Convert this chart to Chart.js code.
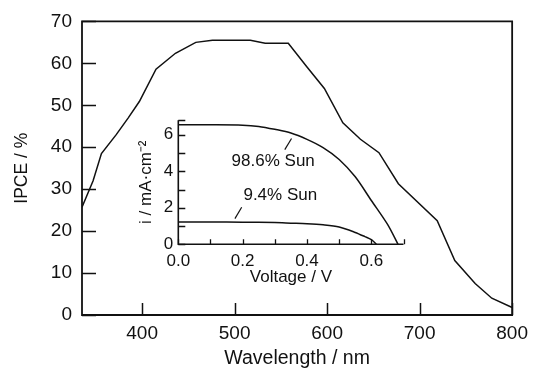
<!DOCTYPE html>
<html>
<head>
<meta charset="utf-8">
<script src="https://cdn.jsdelivr.net/npm/chart.js@4"></script>
<style>
  body { margin: 0; background: #fff; }
  #wrap { position: relative; width: 535px; height: 369px; }
  #main { position: absolute; left: 0; top: 0; }
  #inset { position: absolute; left: 120px; top: 105px; }
</style>
</head>
<body>
<div id="wrap">
  <canvas id="main" width="535" height="369"></canvas>
  <canvas id="inset" width="300" height="190"></canvas>
</div>
<script>
'use strict';
// IPCE spectrum (main plot)
var wavelength = [335, 347, 356, 372, 385, 397, 415, 436, 458, 476, 517, 533, 558, 578, 597, 617, 636, 656, 677, 719, 738, 760, 778, 800];
var ipce = [25.7, 32, 38.5, 43, 47, 50.9, 58.6, 62.4, 65, 65.5, 65.5, 64.8, 64.8, 59.2, 54, 45.8, 41.9, 38.7, 31.3, 22.5, 13, 7.5, 4, 1.8];
var wavelengthTicks = [400, 500, 600, 700, 800];

// inset: i-V curves at two light intensities
var voltageHigh = [0, 0.1, 0.2, 0.25, 0.3, 0.35, 0.4, 0.45, 0.5, 0.55, 0.6, 0.65, 0.683];
var currentHigh = [6.55, 6.55, 6.53, 6.46, 6.3, 6.1, 5.75, 5.3, 4.65, 3.7, 2.4, 1.1, 0];
var voltageLow = [0, 0.1, 0.2, 0.3, 0.35, 0.4, 0.45, 0.5, 0.55, 0.58, 0.6, 0.616];
var currentLow = [1.22, 1.22, 1.21, 1.19, 1.16, 1.13, 1.07, 0.95, 0.65, 0.42, 0.25, 0];
var curveLabels = ['98.6% Sun', '9.4% Sun'];

var FONT = "'Liberation Sans', Arial, Helvetica, sans-serif";
var INK = '#111';

function points(xs, ys) {
    return xs.map(function (x, i) { return { x: x, y: ys[i] } })
}

// frame + inward tick marks, drawn from the chart's own scales
var framePlugin = {
    id: 'frame',
    afterDraw: function (chart, args, opts) {
        var ctx = chart.ctx, a = chart.chartArea
        var xs = chart.scales.x, ys = chart.scales.y
        ctx.save()
        ctx.strokeStyle = INK
        ctx.lineWidth = opts.width
        ctx.beginPath()
        if (opts.box) {
            ctx.rect(a.left, a.top, a.right - a.left, a.bottom - a.top)
        } else {
            ctx.moveTo(a.left, a.top)
            ctx.lineTo(a.left, a.bottom)
            ctx.lineTo(a.right, a.bottom)
        }
        ctx.stroke()
        ctx.lineWidth = opts.tickWidth
        ctx.beginPath()
        xs.ticks.forEach(function (t) {
            var px = Math.round(xs.getPixelForValue(t.value)) + 0.5
            ctx.moveTo(px, a.bottom)
            ctx.lineTo(px, a.bottom - opts.xTick)
        })
        ys.ticks.forEach(function (t) {
            var py = Math.round(ys.getPixelForValue(t.value)) + 0.5
            ctx.moveTo(a.left, py)
            ctx.lineTo(a.left + opts.yTick, py)
        })
        ctx.stroke()
        ctx.restore()
    }
};

// curve labels with leader lines in the inset
var labelPlugin = {
    id: 'curveLabels',
    afterDraw: function (chart, args, opts) {
        var ctx = chart.ctx, xs = chart.scales.x, ys = chart.scales.y
        ctx.save()
        ctx.fillStyle = INK
        ctx.strokeStyle = INK
        ctx.lineWidth = 1.2
        ctx.font = opts.size + 'px ' + FONT
        ctx.textAlign = 'center'
        ctx.textBaseline = 'middle'
        opts.items.forEach(function (it) {
            ctx.fillText(it.text, xs.getPixelForValue(it.at[0]), ys.getPixelForValue(it.at[1]))
            ctx.beginPath()
            ctx.moveTo(xs.getPixelForValue(it.from[0]), ys.getPixelForValue(it.from[1]))
            ctx.lineTo(xs.getPixelForValue(it.to[0]), ys.getPixelForValue(it.to[1]))
            ctx.stroke()
        })
        ctx.restore()
    }
};

// main chart
new Chart(document.getElementById('main'), {
    type: 'line',
    data: {
        datasets: [{
            data: points(wavelength, ipce),
            borderColor: INK,
            borderWidth: 1.5,
            pointRadius: 0,
            tension: 0,
            fill: false
        }]
    },
    options: {
        responsive: false,
        animation: false,
        layout: { padding: { left: 0, top: 19, right: 20, bottom: 0 } },
        plugins: {
            legend: { display: false },
            tooltip: { enabled: false },
            frame: { box: true, width: 1.8, tickWidth: 1.5, xTick: 12, yTick: 14 }
        },
        scales: {
            x: {
                type: 'linear',
                min: 335,
                max: 800,
                afterBuildTicks: function (s) {
                    s.ticks = wavelengthTicks.map(function (v) { return { value: v } })
                },
                afterFit: function (s) { s.height = 54 },
                grid: { display: false, drawTicks: false },
                border: { display: false },
                ticks: { color: INK, padding: 7, maxRotation: 0, font: { family: FONT, size: 19, lineHeight: 1.2 } },
                title: {
                    display: true,
                    text: 'Wavelength / nm',
                    color: INK,
                    padding: { top: 0, bottom: 1 },
                    font: { family: FONT, size: 19.5, lineHeight: 1 }
                }
            },
            y: {
                min: 0,
                max: 70,
                afterFit: function (s) { s.width = 82 },
                grid: { display: false, drawTicks: false },
                border: { display: false },
                ticks: { stepSize: 10, color: INK, padding: 10, font: { family: FONT, size: 19 } },
                title: {
                    display: true,
                    text: 'IPCE / %',
                    color: INK,
                    padding: { top: 13, bottom: 0 },
                    font: { family: FONT, size: 17.5, lineHeight: 1 }
                }
            }
        }
    },
    plugins: [framePlugin]
});

// inset chart
new Chart(document.getElementById('inset'), {
    type: 'line',
    data: {
        datasets: [{
            data: points(voltageHigh, currentHigh),
            borderColor: INK,
            borderWidth: 1.5,
            pointRadius: 0,
            tension: 0.3
        }, {
            data: points(voltageLow, currentLow),
            borderColor: INK,
            borderWidth: 1.5,
            pointRadius: 0,
            tension: 0.3
        }]
    },
    options: {
        responsive: false,
        animation: false,
        layout: { padding: { left: 0, top: 13.3, right: 16.5, bottom: 0 } },
        plugins: {
            legend: { display: false },
            tooltip: { enabled: false },
            frame: { box: false, width: 1.6, tickWidth: 1.3, xTick: 5, yTick: 7 },
            curveLabels: {
                size: 17,
                items: [
                    { text: curveLabels[0], at: [0.295, 4.56], from: [0.331, 5.19], to: [0.352, 5.8] },
                    { text: curveLabels[1], at: [0.317, 2.66], from: [0.176, 1.41], to: [0.197, 2.03] }
                ]
            }
        },
        scales: {
            x: {
                type: 'linear',
                min: 0,
                max: 0.7,
                afterFit: function (s) { s.height = 50.7 },
                grid: { display: false, drawTicks: false },
                border: { display: false },
                ticks: {
                    stepSize: 0.1,
                    color: INK,
                    padding: 7,
                    maxRotation: 0,
                    autoSkip: false,
                    font: { family: FONT, size: 17, lineHeight: 1.2 },
                    callback: function (v) {
                        var n = Math.round(v * 10)
                        return (n % 2 === 0 && n < 7) ? (n / 10).toFixed(1) : ''
                    }
                },
                title: {
                    display: true,
                    text: 'Voltage / V',
                    color: INK,
                    padding: { top: 0, bottom: 9.5 },
                    font: { family: FONT, size: 17, lineHeight: 1 }
                }
            },
            y: {
                min: 0,
                max: 6.8,
                // keep the integer ticks and add one at the top end of the axis
                afterBuildTicks: function (s) {
                    var t = []
                    for (var v = 0; v <= 6; v++) t.push({ value: v })
                    t.push({ value: s.max })
                    s.ticks = t
                },
                afterFit: function (s) { s.width = 58.3 },
                grid: { display: false, drawTicks: false },
                border: { display: false },
                ticks: {
                    color: INK,
                    padding: 5,
                    autoSkip: false,
                    font: { family: FONT, size: 17 },
                    callback: function (v) {
                        var n = Math.round(v)
                        return (Math.abs(v - n) < 1e-6 && n % 2 === 0) ? String(n) : ''
                    }
                },
                title: {
                    display: true,
                    text: 'i / mA\u00b7cm\u207b\u00b2',
                    color: INK,
                    padding: { top: 17.5, bottom: 0 },
                    font: { family: FONT, size: 17, lineHeight: 1 }
                }
            }
        }
    },
    plugins: [framePlugin, labelPlugin]
});
</script>
</body>
</html>
